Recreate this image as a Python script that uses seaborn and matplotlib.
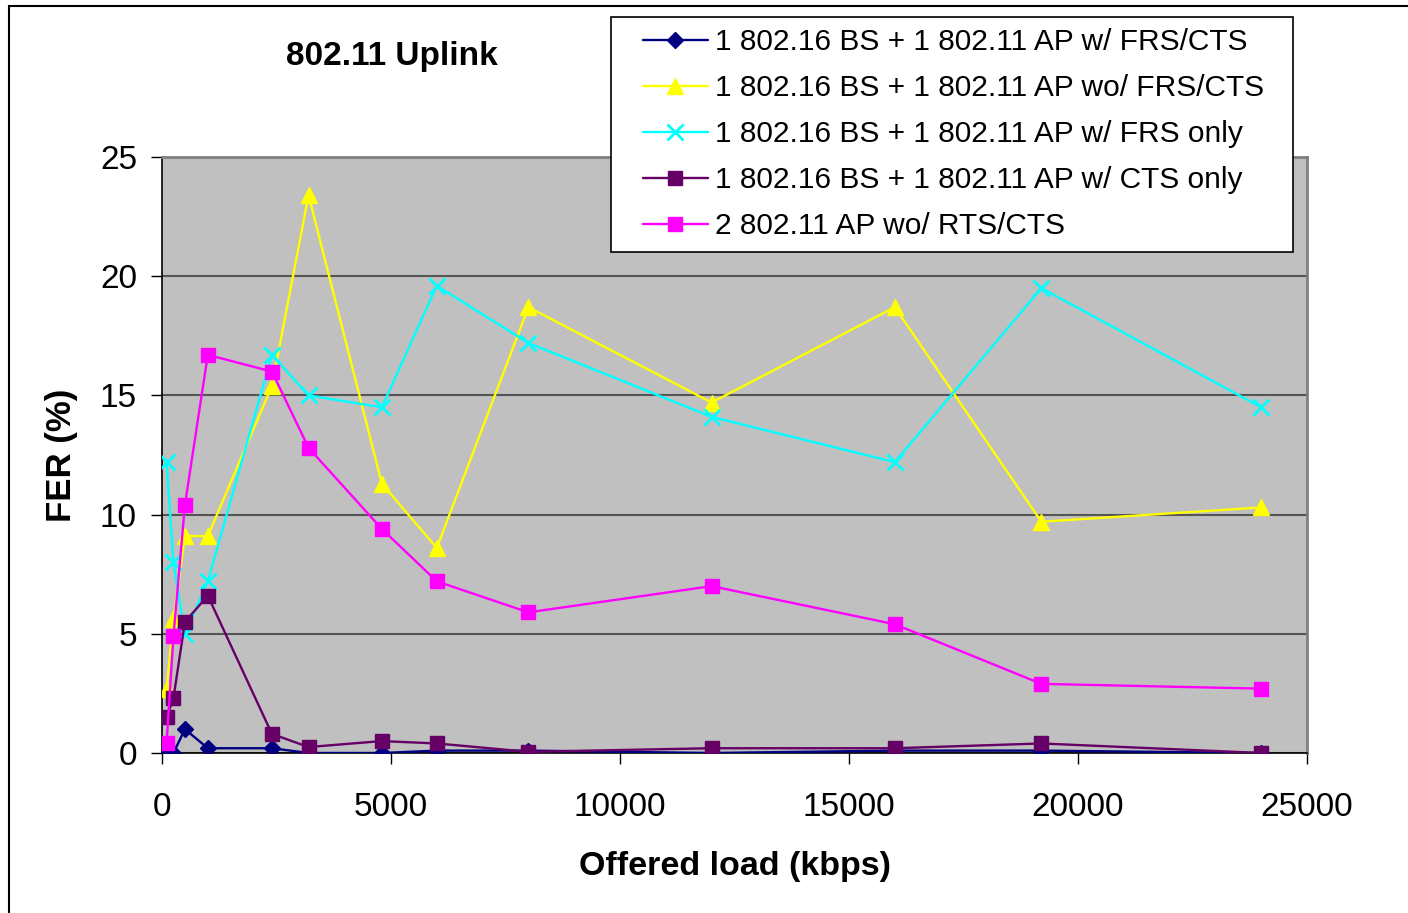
import matplotlib
matplotlib.use("Agg")
import matplotlib.pyplot as plt
import matplotlib.patches as mpatches
import seaborn as sns
import numpy as np

sns.set_style("white")
plt.rcParams['font.family'] = ['Liberation Sans', 'DejaVu Sans']
plt.rcParams['text.color'] = 'black'
plt.rcParams['xtick.color'] = 'black'
plt.rcParams['ytick.color'] = 'black'

# offered load (kbps), shared by all scenarios
load_kbps = [100, 250, 500, 1000, 2400, 3200, 4800, 6000, 8000, 12000, 16000, 19200, 24000]

fer_frs_cts = [0.0, 0.0, 1.0, 0.2, 0.2, 0.0, 0.0, 0.1, 0.1, 0.0, 0.1, 0.1, 0.0]
fer_no_frs_cts = [2.7, 5.6, 9.1, 9.1, 15.4, 23.4, 11.3, 8.6, 18.7, 14.7, 18.7, 9.7, 10.3]
fer_frs_only = [12.2, 8.0, 5.0, 7.2, 16.7, 15.0, 14.5, 19.6, 17.2, 14.1, 12.2, 19.5, 14.5]
fer_cts_only = [1.5, 2.3, 5.5, 6.6, 0.8, 0.25, 0.5, 0.4, 0.05, 0.2, 0.2, 0.4, 0.0]
fer_two_ap = [0.4, 4.9, 10.4, 16.7, 16.0, 12.8, 9.4, 7.2, 5.9, 7.0, 5.4, 2.9, 2.7]

labels = ["1 802.16 BS + 1 802.11 AP w/ FRS/CTS",
          "1 802.16 BS + 1 802.11 AP wo/ FRS/CTS",
          "1 802.16 BS + 1 802.11 AP w/ FRS only",
          "1 802.16 BS + 1 802.11 AP w/ CTS only",
          "2 802.11 AP wo/ RTS/CTS"]
series = [fer_frs_cts, fer_no_frs_cts, fer_frs_only, fer_cts_only, fer_two_ap]
colors = ['#000080', '#FFFF00', '#00FFFF', '#660066', '#FF00FF']
markers = ['D', '^', 'x', 's', 's']
msizes = [8.5, 12, 11, 9.5, 9.5]

fig = plt.figure(figsize=(14.08, 9.13), dpi=100)
ax = fig.add_axes([162 / 1408, 1 - 753 / 913, (1307 - 162) / 1408, (753 - 157) / 913])
ax.set_facecolor('#C0C0C0')

# outer chart border (only left/top visible in the reference)
fig.patches.append(mpatches.Rectangle((9 / 1408, -0.1), 1.2, 1 - 6 / 913 + 0.1,
                                      transform=fig.transFigure, fill=False,
                                      edgecolor='black', lw=1.5))

for i, y in enumerate(series):
    sns.lineplot(x=load_kbps, y=y, ax=ax, color=colors[i], marker=markers[i],
                 markersize=msizes[i], markeredgecolor=colors[i],
                 markeredgewidth=2 if markers[i] == 'x' else 1,
                 linewidth=1.7, sort=False, label=labels[i], zorder=3 + i)

ax.set_xlim(0, 25000)
ax.set_ylim(0, 25)
ax.set_xticks(np.arange(0, 25001, 5000))
ax.set_yticks(np.arange(0, 26, 5))
ax.yaxis.grid(True, color='#555555', lw=1.5)
ax.set_axisbelow(True)
ax.tick_params(axis='both', labelsize=24, length=8, width=1, color='black',
               direction='out', bottom=True, left=True)
ax.tick_params(axis='x', pad=20)
ax.tick_params(axis='y', pad=10)
for s in ['left', 'bottom']:
    ax.spines[s].set_color('black')
    ax.spines[s].set_linewidth(1.2)
for s in ['top', 'right']:
    ax.spines[s].set_color('#808080')
    ax.spines[s].set_linewidth(2)

handles, lbls = ax.get_legend_handles_labels()
ax.get_legend().remove()

# legend box drawn separately so the padding matches the reference
fig.patches.append(mpatches.Rectangle((611 / 1408, 1 - 252 / 913), (1293 - 611) / 1408,
                                      (252 - 17) / 913, transform=fig.transFigure,
                                      facecolor='white', edgecolor='black', lw=1.2,
                                      zorder=5))
leg = fig.legend(handles, lbls, loc='upper left',
                 bbox_to_anchor=(643 / 1408, 1 - 28 / 913),
                 fontsize=21.5, frameon=False, handlelength=2.17,
                 handletextpad=0.23, labelspacing=0.605, borderpad=0,
                 borderaxespad=0)
leg.set_zorder(6)

fig.text(392 / 1408, 1 - 56 / 913, "802.11 Uplink", fontsize=24, fontweight='bold',
         ha='center', va='center')
fig.text(735 / 1408, 1 - 866 / 913, "Offered load (kbps)", fontsize=24.5,
         fontweight='bold', ha='center', va='center')
fig.text(62 / 1408, 1 - 455 / 913, "FER (%)", fontsize=25, fontweight='bold',
         ha='center', va='center', rotation=90)

fig.savefig("out.png", dpi=100)
